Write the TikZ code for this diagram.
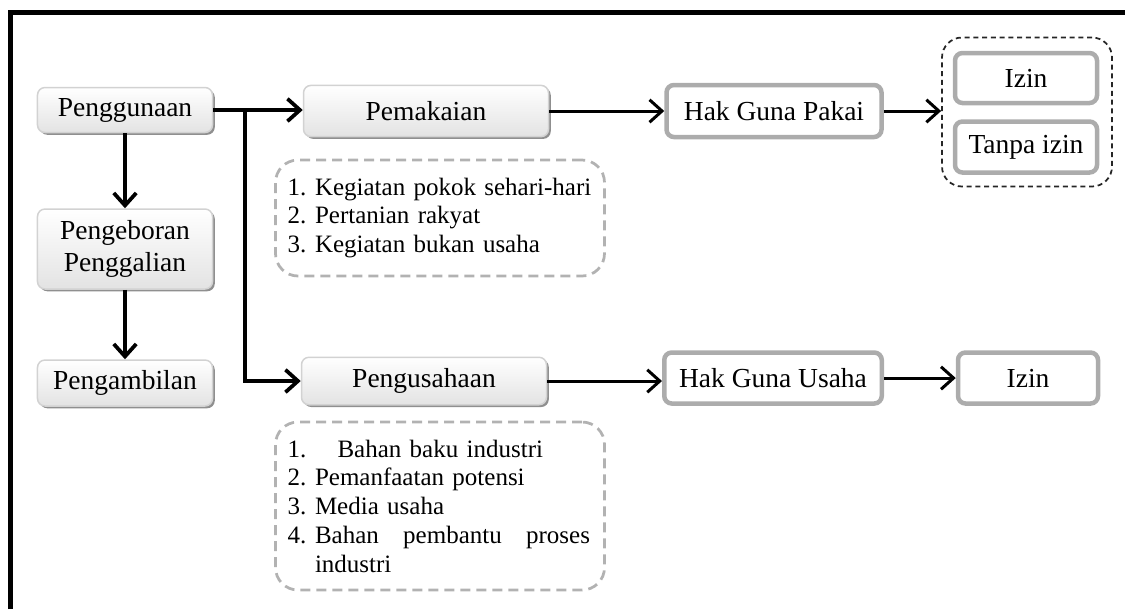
\documentclass[tikz,border=0pt]{standalone}
\usepackage{fontspec}
\setmainfont{Liberation Serif}
\usetikzlibrary{arrows.meta}
\usetikzlibrary{shadows}
\newcommand{\listrow}[2]{\makebox[11pt][l]{#1}#2}

\begin{document}
\begin{tikzpicture}[x=.4pt,y=-.4pt,
  shadebox/.style={draw=gray!35, line width=.6pt, rounded corners=3pt, top color=white, bottom color=gray!22,
    drop shadow={shadow xshift=.9pt, shadow yshift=-.9pt, fill=black!55, opacity=.8},
    align=center, inner sep=2pt, font=\fontsize{11}{12.8}\selectfont},
  hakbox/.style={draw=gray!65, line width=1.8pt, rounded corners=3pt, fill=white, align=center, inner sep=2pt,
    font=\fontsize{11}{12.8}\selectfont},
  listbox/.style={draw=gray!60, line width=1.1pt, dash pattern=on 4pt off 2.4pt, rounded corners=9pt,
    align=left, inner xsep=4.8pt, text width=122pt, font=\fontsize{10}{11.5}\selectfont},
  grpbox/.style={draw=black!85, line width=.7pt, dash pattern=on 2pt off 1.5pt, rounded corners=8pt},
  arr/.style={-{Straight Barb[length=5pt,width=9pt]}, line width=1.5pt}]
\useasboundingbox (0,0) rectangle (1125,609);
\draw[line width=2pt] (10.5,609) -- (10.5,12.5) -- (1125,12.5); % frame

\node[shadebox, minimum width=70pt, minimum height=18pt] (gun) at (125,110) {Penggunaan};
\node[shadebox, minimum width=70pt, minimum height=32pt] (bor) at (125,249) {Pengeboran\\Penggalian};
\node[shadebox, minimum width=70pt, minimum height=18.4pt] (amb) at (125,383) {Pengambilan};

\node[shadebox, minimum width=98pt, minimum height=20.5pt] (pem) at (426,111) {Pemakaian};
\node[shadebox, minimum width=98pt, minimum height=19pt] (pus) at (424,381) {Pengusahaan};

\node[listbox, minimum height=46.4pt] (pemlist) at (440,218)
  {\listrow{1.}{Kegiatan pokok sehari-hari}\\ \listrow{2.}{Pertanian rakyat}\\ \listrow{3.}{Kegiatan bukan usaha}};
\node[listbox, minimum height=67.2pt] (puslist) at (440,506)
  {\makebox[20pt][l]{1.}Bahan baku industri\\ \listrow{2.}{Pemanfaatan potensi}\\ \listrow{3.}{Media usaha}\\
   \listrow{4.}{\makebox[110pt][l]{Bahan\hfill pembantu\hfill proses}}\\ \hspace*{11pt}industri};

\node[hakbox, minimum width=86pt, minimum height=20.8pt] (hgp) at (774,111) {Hak Guna Pakai};
\node[hakbox, minimum width=87pt, minimum height=20.4pt] (hgu) at (773,378) {Hak Guna Usaha};

\node[grpbox, minimum width=68pt, minimum height=59.6pt] (grp) at (1027,112) {};
\node[hakbox, minimum width=56.8pt, minimum height=20pt] (izin) at (1026,78) {Izin};
\node[hakbox, minimum width=56.8pt, minimum height=20.4pt] (tanpa) at (1026,147) {Tanpa izin};
\node[hakbox, minimum width=56pt, minimum height=20.4pt] (izinb) at (1028,378) {Izin};

\coordinate (split) at (245,110);
\draw[arr] (gun.east) -- (gun.east -| pem.west);
\draw[arr] (split) |- (pus.west);
\draw[arr] (gun.south) -- (bor.north);
\draw[arr] (bor.south) -- (amb.north);

\draw[arr, line width=1.2pt] (pem.east) -- (hgp.west);
\draw[arr, line width=1.2pt] (hgp.east) -- (hgp.east -| grp.west);
\draw[arr, line width=1.2pt] (pus.east) -- (pus.east -| hgu.west);
\draw[arr, line width=1.2pt] (hgu.east) -- (izinb.west);
\end{tikzpicture}
\end{document}
